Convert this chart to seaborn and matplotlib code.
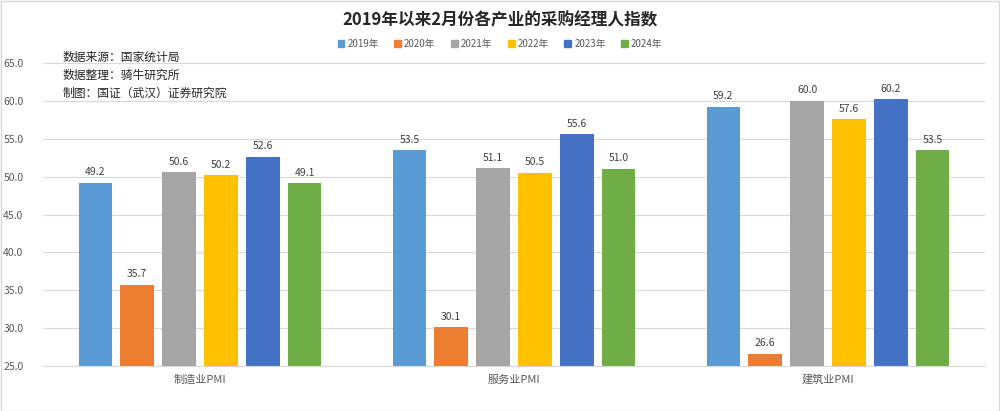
import matplotlib
matplotlib.use("Agg")
import matplotlib.pyplot as plt
import seaborn as sns
import pandas as pd
from matplotlib.patches import Rectangle

categories = ["制造业PMI", "服务业PMI", "建筑业PMI"]
years = ["2019年", "2020年", "2021年", "2022年", "2023年", "2024年"]
values_2019 = [49.2, 53.5, 59.2]
values_2020 = [35.7, 30.1, 26.6]
values_2021 = [50.6, 51.1, 60.0]
values_2022 = [50.2, 50.5, 57.6]
values_2023 = [52.6, 55.6, 60.2]
values_2024 = [49.1, 51.0, 53.5]
colors = ["#5B9BD5", "#ED7D31", "#A5A5A5", "#FFC000", "#4472C4", "#70AD47"]
yticks = [25.0, 30.0, 35.0, 40.0, 45.0, 50.0, 55.0, 60.0, 65.0]
notes = ["数据来源：国家统计局", "数据整理：骑牛研究所", "制图：国证（武汉）证券研究院"]
title = "2019年以来2月份各产业的采购经理人指数"

series = [values_2019, values_2020, values_2021, values_2022, values_2023, values_2024]
rows = []
for y, vals in zip(years, series):
    for c, v in zip(categories, vals):
        rows.append({"category": c, "year": y, "value": v})
df = pd.DataFrame(rows)

sns.set_theme(style="white")
plt.rcParams['font.family'] = ['Noto Sans CJK SC', 'DejaVu Sans']

fig = plt.figure(figsize=(10, 4.11), dpi=100)
ax = fig.add_axes([0.043, 0.1095, 0.942, 0.7372])

sns.barplot(data=df, x="category", y="value", hue="year", order=categories,
            hue_order=years, palette=colors, width=0.8, gap=0.2,
            saturation=1, ax=ax, legend=False, errorbar=None, linewidth=0)

ax.set_ylim(25, 65)
ax.set_xlim(-0.5, 2.5)
ax.set_yticks(yticks)
ax.set_yticklabels([f"{t:.1f}" for t in yticks], color="#595959", fontsize=7.5)
ax.tick_params(axis="x", labelsize=8, colors="#595959", length=0, pad=6)
ax.tick_params(axis="y", length=0, pad=14)
ax.set_xlabel("")
ax.set_ylabel("")
ax.yaxis.grid(True, color="#D9D9D9", linewidth=0.8)
ax.set_axisbelow(True)
for s in ["top", "right", "left"]:
    ax.spines[s].set_visible(False)
ax.spines["bottom"].set_color("#D9D9D9")
ax.spines["bottom"].set_linewidth(0.8)

for container in ax.containers:
    ax.bar_label(container, fmt="%.1f", padding=4, fontsize=7.5, color="#404040")

fig.text(0.5, 0.951, title, ha="center", va="center", fontsize=12,
         fontweight="bold", color="#262626")

# legend
handles = [Rectangle((0, 0), 1, 1, color=c) for c in colors]
fig.legend(handles, years, loc="center", bbox_to_anchor=(0.5, 0.893), ncol=6,
           frameon=False, fontsize=7, handlelength=0.7, handleheight=0.7,
           handletextpad=0.3, columnspacing=1.6, labelcolor="#595959")

for i, n in enumerate(notes):
    fig.text(0.063, 1 - (57 + 18 * i) / 411, n, ha="left", va="center",
             fontsize=8.5, color="#262626")

fig.patches.append(Rectangle((0.001, 0.001), 0.998, 0.997, transform=fig.transFigure,
                             fill=False, edgecolor="#D9D9D9", linewidth=1))

fig.savefig("out.png", dpi=100)
